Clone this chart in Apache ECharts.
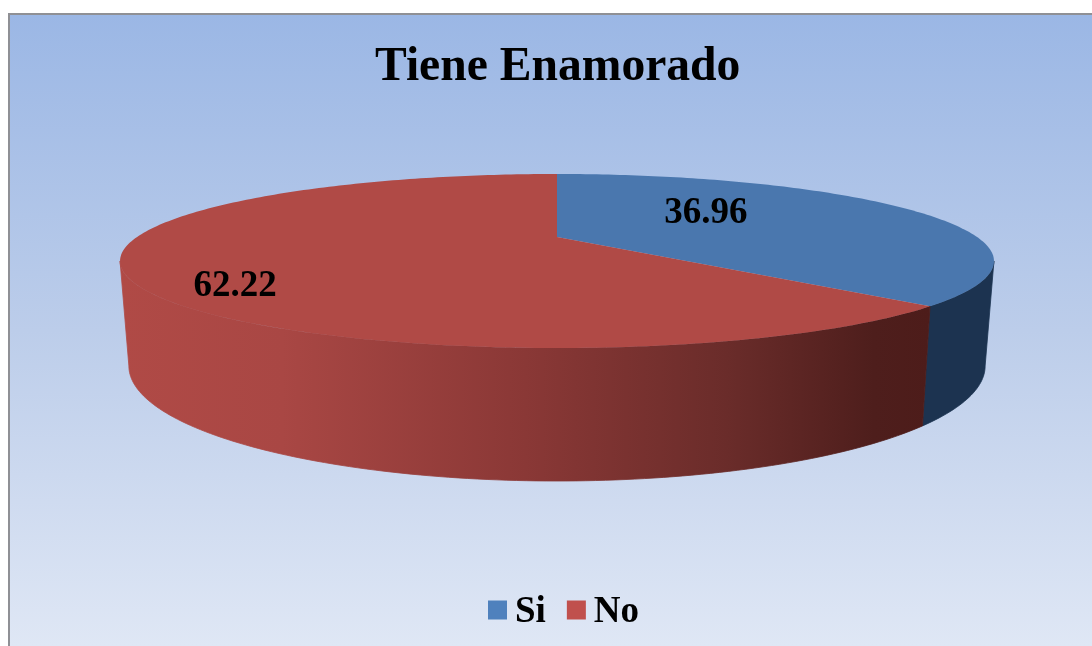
<!DOCTYPE html>
<html>
<head>
<meta charset="utf-8">
<style>html,body{margin:0;padding:0;background:#fff}#chart{width:1092px;height:646px}</style>
<script src="https://cdn.jsdelivr.net/npm/echarts@6/dist/echarts.min.js"></script>
</head>
<body>
<div id="chart"></div>
<script>
const titleText = 'Tiene Enamorado';
const categories = ['Si', 'No'];
const values = [36.96, 62.22];
const legendColors = ['#4f81bd', '#c0504d'];
const topColors = ['#4a77ae', '#b04a46'];

const total = values.reduce((a, b) => a + b, 0);
const CX = 557, D_TOP = 420, D_BOT = 411.5, C = -0.2759;
const topPlane = { d: D_TOP, a: 15, b: 237 };
const botPlane = { d: D_BOT, a: 14, b: 334.3 };
const SIDE_VIS_START = 106, SIDE_VIS_END = 254;
const labelAnchors = [[0.388, -0.37], [-0.664, 0.495]];

function project(plane, u, v) {
  const w = 1 + C * v;
  return [CX + plane.d * u / w, (plane.a * v + plane.b) / w];
}
function onRim(plane, deg) {
  const t = deg * Math.PI / 180;
  return project(plane, Math.sin(t), -Math.cos(t));
}
function arc(plane, from, to) {
  const pts = [];
  const n = Math.max(2, Math.ceil(Math.abs(to - from)));
  for (let i = 0; i <= n; i++) pts.push(onRim(plane, from + (to - from) * i / n));
  return pts;
}
function sliceRange(i) {
  let s = 0;
  for (let k = 0; k < i; k++) s += values[k];
  return [s / total * 360, (s + values[i]) / total * 360];
}
const sideFills = [
  '#1c3350',
  { type: 'linear', x: 0, y: 0, x2: 1, y2: 0, colorStops: [
    { offset: 0, color: '#b04a46' },
    { offset: 0.2, color: '#a94744' },
    { offset: 0.5, color: '#8a3836' },
    { offset: 0.75, color: '#6a2c2a' },
    { offset: 0.93, color: '#4e1e1c' },
    { offset: 1, color: '#4d1c1a' }
  ] }
];

function renderSlice(i) {
  return function () {
    const [a0, a1] = sliceRange(i);
    const children = [];
    const s0 = Math.max(a0, SIDE_VIS_START), s1 = Math.min(a1, SIDE_VIS_END);
    if (s1 > s0) {
      children.push({
        type: 'polygon',
        shape: { points: arc(topPlane, s0, s1).concat(arc(botPlane, s1, s0)) },
        style: { fill: sideFills[i], stroke: sideFills[i], lineWidth: 0.8 }
      });
    }
    children.push({
      type: 'polygon',
      shape: { points: [project(topPlane, 0, 0)].concat(arc(topPlane, a0, a1)) },
      style: { fill: topColors[i] }
    });
    const p = project(topPlane, labelAnchors[i][0], labelAnchors[i][1]);
    children.push({
      type: 'text',
      z2: 100,
      style: {
        x: p[0] + 1, y: p[1] + 3, text: String(values[i]),
        fill: '#000', align: 'center', verticalAlign: 'middle',
        font: 'bold 37px "Liberation Serif", serif'
      }
    });
    return { type: 'group', children };
  };
}

const legendFont = { fontFamily: '"Liberation Serif", serif', fontWeight: 'bold', fontSize: 37, color: '#000' };
const chart = echarts.init(document.getElementById('chart'), null, { renderer: 'canvas' });
chart.setOption({
  animation: false,
  title: {
    text: titleText, left: 375, top: 44,
    padding: 0,
    textStyle: { fontFamily: '"Liberation Serif", serif', fontWeight: 'bold', fontSize: 47.6, color: '#000' }
  },
  legend: {
    data: categories, left: 483, top: 589, icon: 'rect',
    itemWidth: 19, itemHeight: 19, itemGap: 21,
    formatter: '{t|{name}}',
    textStyle: Object.assign({}, legendFont, {
      padding: [0, 0, 0, 3],
      rich: { t: Object.assign({}, legendFont, { padding: [5, 0, 0, 0] }) }
    })
  },
  graphic: [
    { type: 'rect', z: -20, silent: true, shape: { x: 8, y: 13, width: 1084, height: 633 }, style: { fill: '#8f9095' } },
    { type: 'rect', z: -19, silent: true, shape: { x: 10, y: 15, width: 1082, height: 631 },
      style: { fill: { type: 'linear', x: 0, y: 0, x2: 0, y2: 1, colorStops: [
        { offset: 0, color: '#9bb7e5' }, { offset: 0.5, color: '#bccdea' }, { offset: 1, color: '#dfe7f5' }
      ] } } }
  ],
  series: categories.map((name, i) => ({
    type: 'custom', name, coordinateSystem: 'none',
    itemStyle: { color: legendColors[i] },
    renderItem: renderSlice(i),
    data: [values[i]],
    silent: true
  }))
});
</script>
</body>
</html>
